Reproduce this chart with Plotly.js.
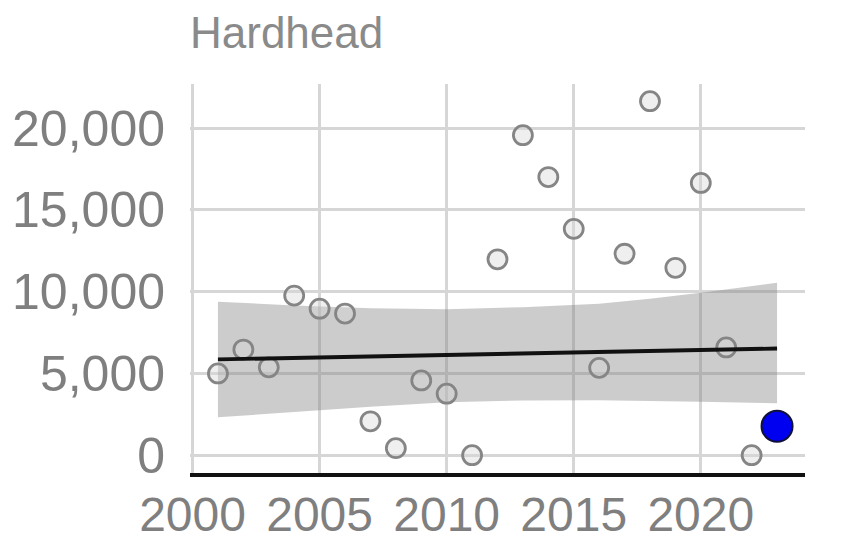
<!DOCTYPE html>
<html>
<head>
<meta charset="utf-8">
<script src="https://cdn.plot.ly/plotly-3.0.1.min.js"></script>
<style>html,body{margin:0;padding:0;background:#fff;}#chart{width:854px;height:539px;}</style>
</head>
<body>
<div id="chart"></div>
<script>
// Survey counts (gray points)
const years = [2001,2002,2003,2004,2005,2006,2007,2008,2009,2010,2011,2012,2013,2014,2015,2016,2017,2018,2019,2020,2021,2022];
const counts = [5000,6460,5370,9760,8960,8660,2070,430,4570,3760,0,11980,19570,17010,13840,5340,12320,21650,11460,16650,6590,0];
// Latest year (blue point)
const latestYear = [2023];
const latestCount = [1770];
// Trend line and its confidence band
const fitYears = [2001, 2023];
const fitValues = [5854, 6524];
const bandYears = [2001,2004,2007,2010,2013,2016,2018,2020,2023];
const bandUpper = [9390,9150,8990,8930,9050,9260,9570,9940,10550];
const bandLower = [2320,2640,2960,3230,3350,3360,3330,3270,3170];
// Axis ticks
const xTicks = [2000,2005,2010,2015,2020];
const yTicks = [0,5000,10000,15000,20000];

const font = 'Liberation Sans, Arial, sans-serif';

const traces = [
  {x: bandYears, y: bandLower, mode: 'lines', line: {width: 0, color: 'rgba(0,0,0,0)'}, hoverinfo: 'skip', showlegend: false},
  {x: bandYears, y: bandUpper, mode: 'lines', line: {width: 0, color: 'rgba(0,0,0,0)'}, fill: 'tonexty', fillcolor: 'rgba(128,128,128,0.4)', hoverinfo: 'skip', showlegend: false},
  {x: years, y: counts, mode: 'markers', showlegend: false,
   marker: {size: 19, color: 'rgba(215,215,215,0.4)', line: {color: '#858585', width: 2.8}}},
  {x: fitYears, y: fitValues, mode: 'lines', line: {color: '#111111', width: 3.8}, showlegend: false},
  {x: latestYear, y: latestCount, mode: 'markers', showlegend: false,
   marker: {size: 31, color: '#0000f0', line: {color: '#10103a', width: 2}}}
];

const layout = {
  width: 854, height: 539,
  margin: {l: 190, r: 49, t: 84, b: 66},
  paper_bgcolor: '#ffffff', plot_bgcolor: '#ffffff',
  font: {family: font, color: '#7f7f7f'},
  showlegend: false,
  title: {text: 'Hardhead', font: {family: font, size: 44, color: '#8a8a8a'},
          xref: 'paper', x: 0, xanchor: 'left', yref: 'container', y: 1 - 33/539, yanchor: 'middle'},
  xaxis: {range: [1999.9, 2024.1], tickvals: xTicks, ticktext: xTicks.map(String),
          showgrid: true, gridcolor: '#d6d6d6', gridwidth: 3, zeroline: false,
          showline: true, linecolor: '#111111', linewidth: 4, ticks: '',
          tickfont: {family: font, size: 48, color: '#7f7f7f'}, ticklabelstandoff: -4},
  yaxis: {range: [-1090, 22700], tickvals: yTicks, tickformat: ',d',
          showgrid: true, gridcolor: '#d6d6d6', gridwidth: 3, zeroline: false,
          showline: false, ticks: '',
          tickfont: {family: font, size: 50, color: '#7f7f7f'}, ticklabelstandoff: 24}
};

Plotly.newPlot('chart', traces, layout, {staticPlot: true, displayModeBar: false});
</script>
</body>
</html>
